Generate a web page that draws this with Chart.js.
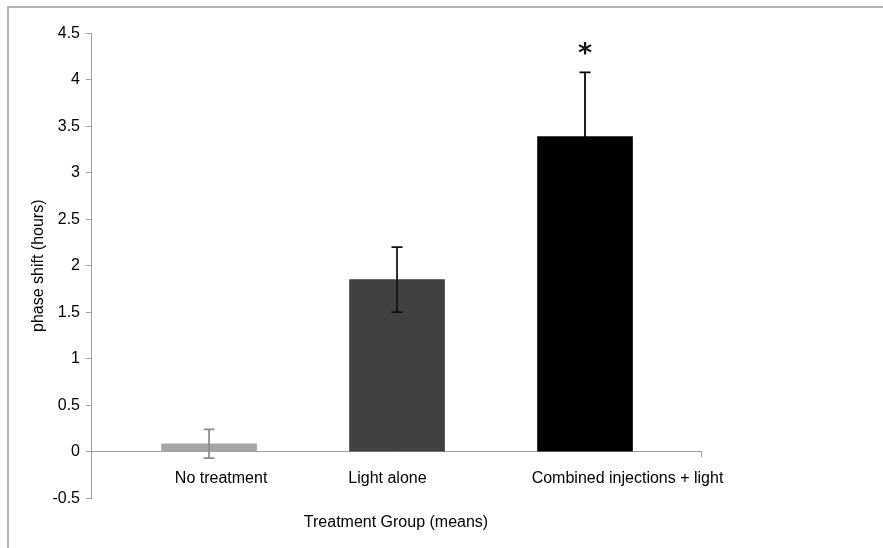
<!DOCTYPE html>
<html>
<head>
<meta charset="utf-8">
<script src="https://cdn.jsdelivr.net/npm/chart.js@4"></script>
<style>
  html, body { margin: 0; padding: 0; background: #fff; overflow: hidden; }
  #wrap { position: relative; width: 883px; height: 548px; }
  #frame { position: absolute; left: 7px; top: 6px; width: 1000px; height: 1000px; border: 2px solid #b4b4b4; }
  #chart { position: absolute; left: 0; top: 0; }
</style>
</head>
<body>
<div id="wrap">
  <div id="frame"></div>
  <canvas id="chart" width="883" height="548"></canvas>
</div>
<script>
// Treatment groups and mean phase shift (hours) with error bar half-widths
const groups = ['No treatment', 'Light alone', 'Combined injections + light'];
const meanShift = [0.085, 1.85, 3.39];
const errShift = [0.155, 0.35, 0.69];
const significance = ['', '', '*'];

// Styling
const FONT = 'Liberation Sans, Arial, Helvetica, sans-serif';
const barColors = ['#a6a6a6', '#404040', '#000000'];
const errColors = ['#8c8c8c', '#111111', '#000000'];
const axisGray = '#a0a0a0';

// Horizontal layout of the x scale (linear units; bars sit at 0, 1, 2)
const X_MIN = -0.628, X_MAX = 2.617;
const labelAt = [0.064, 0.949, 2.226];

const errorBars = {
  id: 'errorBars',
  afterDatasetsDraw(chart) {
    const { ctx, scales: { x, y } } = chart;
    ctx.save();
    meanShift.forEach((m, i) => {
      const px = x.getPixelForValue(i);
      const top = y.getPixelForValue(m + errShift[i]);
      const bot = y.getPixelForValue(m - errShift[i]);
      const cap = 5.5;
      ctx.strokeStyle = errColors[i];
      ctx.lineWidth = 1.75;
      ctx.beginPath();
      ctx.moveTo(px, top); ctx.lineTo(px, bot);
      ctx.moveTo(px - cap, top); ctx.lineTo(px + cap, top);
      ctx.moveTo(px - cap, bot); ctx.lineTo(px + cap, bot);
      ctx.stroke();

      if (significance[i]) {
        ctx.font = 'bold 27px DejaVu Sans, sans-serif';
        ctx.fillStyle = '#111';
        ctx.textAlign = 'center';
        ctx.textBaseline = 'alphabetic';
        const mt = ctx.measureText(significance[i]);
        const centre = top - 24;
        const base = centre + (mt.actualBoundingBoxAscent - mt.actualBoundingBoxDescent) / 2;
        ctx.fillText(significance[i], px, base);
      }
    });
    ctx.restore();
  }
};

new Chart(document.getElementById('chart'), {
  type: 'bar',
  data: {
    datasets: [{
      data: meanShift.map((v, i) => ({ x: i, y: v })),
      backgroundColor: barColors,
      borderWidth: 0,
      barThickness: 95
    }]
  },
  options: {
    responsive: false,
    animation: false,
    layout: { padding: { top: 33.3, right: 182, bottom: 15.6, left: 0 } },
    plugins: {
      legend: { display: false },
      tooltip: { enabled: false },
      title: {
        display: true,
        position: 'bottom',
        fullSize: false,
        text: 'Treatment Group (means)',
        color: '#000',
        font: { family: FONT, size: 16, weight: 'normal' },
        padding: { top: 15, bottom: 0 }
      }
    },
    scales: {
      x: {
        type: 'linear',
        position: { y: 0 },
        offset: false,
        min: X_MIN,
        max: X_MAX,
        afterBuildTicks: (s) => {
          s.ticks = labelAt.map(v => ({ value: v })).concat([{ value: X_MAX }]);
        },
        ticks: {
          callback: (v, i) => groups[i] ?? '',
          color: '#000',
          font: { family: FONT, size: 16 },
          padding: 12,
          maxRotation: 0,
          autoSkip: false
        },
        grid: {
          offset: false,
          drawOnChartArea: false,
          drawTicks: true,
          tickLength: 5,
          color: (c) => (c.index === labelAt.length ? axisGray : 'rgba(0,0,0,0)')
        },
        border: { display: true, color: axisGray, width: 1 }
      },
      y: {
        min: -0.5,
        max: 4.5,
        ticks: {
          stepSize: 0.5,
          color: '#000',
          font: { family: FONT, size: 16 },
          padding: 6,
          callback: (v) => String(Math.round(v * 10) / 10)
        },
        grid: { drawOnChartArea: false, drawTicks: true, tickLength: 5, color: axisGray },
        border: { display: true, color: axisGray, width: 1 },
        title: {
          display: true,
          text: 'phase shift (hours)',
          color: '#000',
          font: { family: FONT, size: 16 },
          padding: { top: 29, bottom: 0 }
        },
        afterFit: (s) => { s.width = 91; }
      }
    }
  },
  plugins: [errorBars]
});
</script>
</body>
</html>
